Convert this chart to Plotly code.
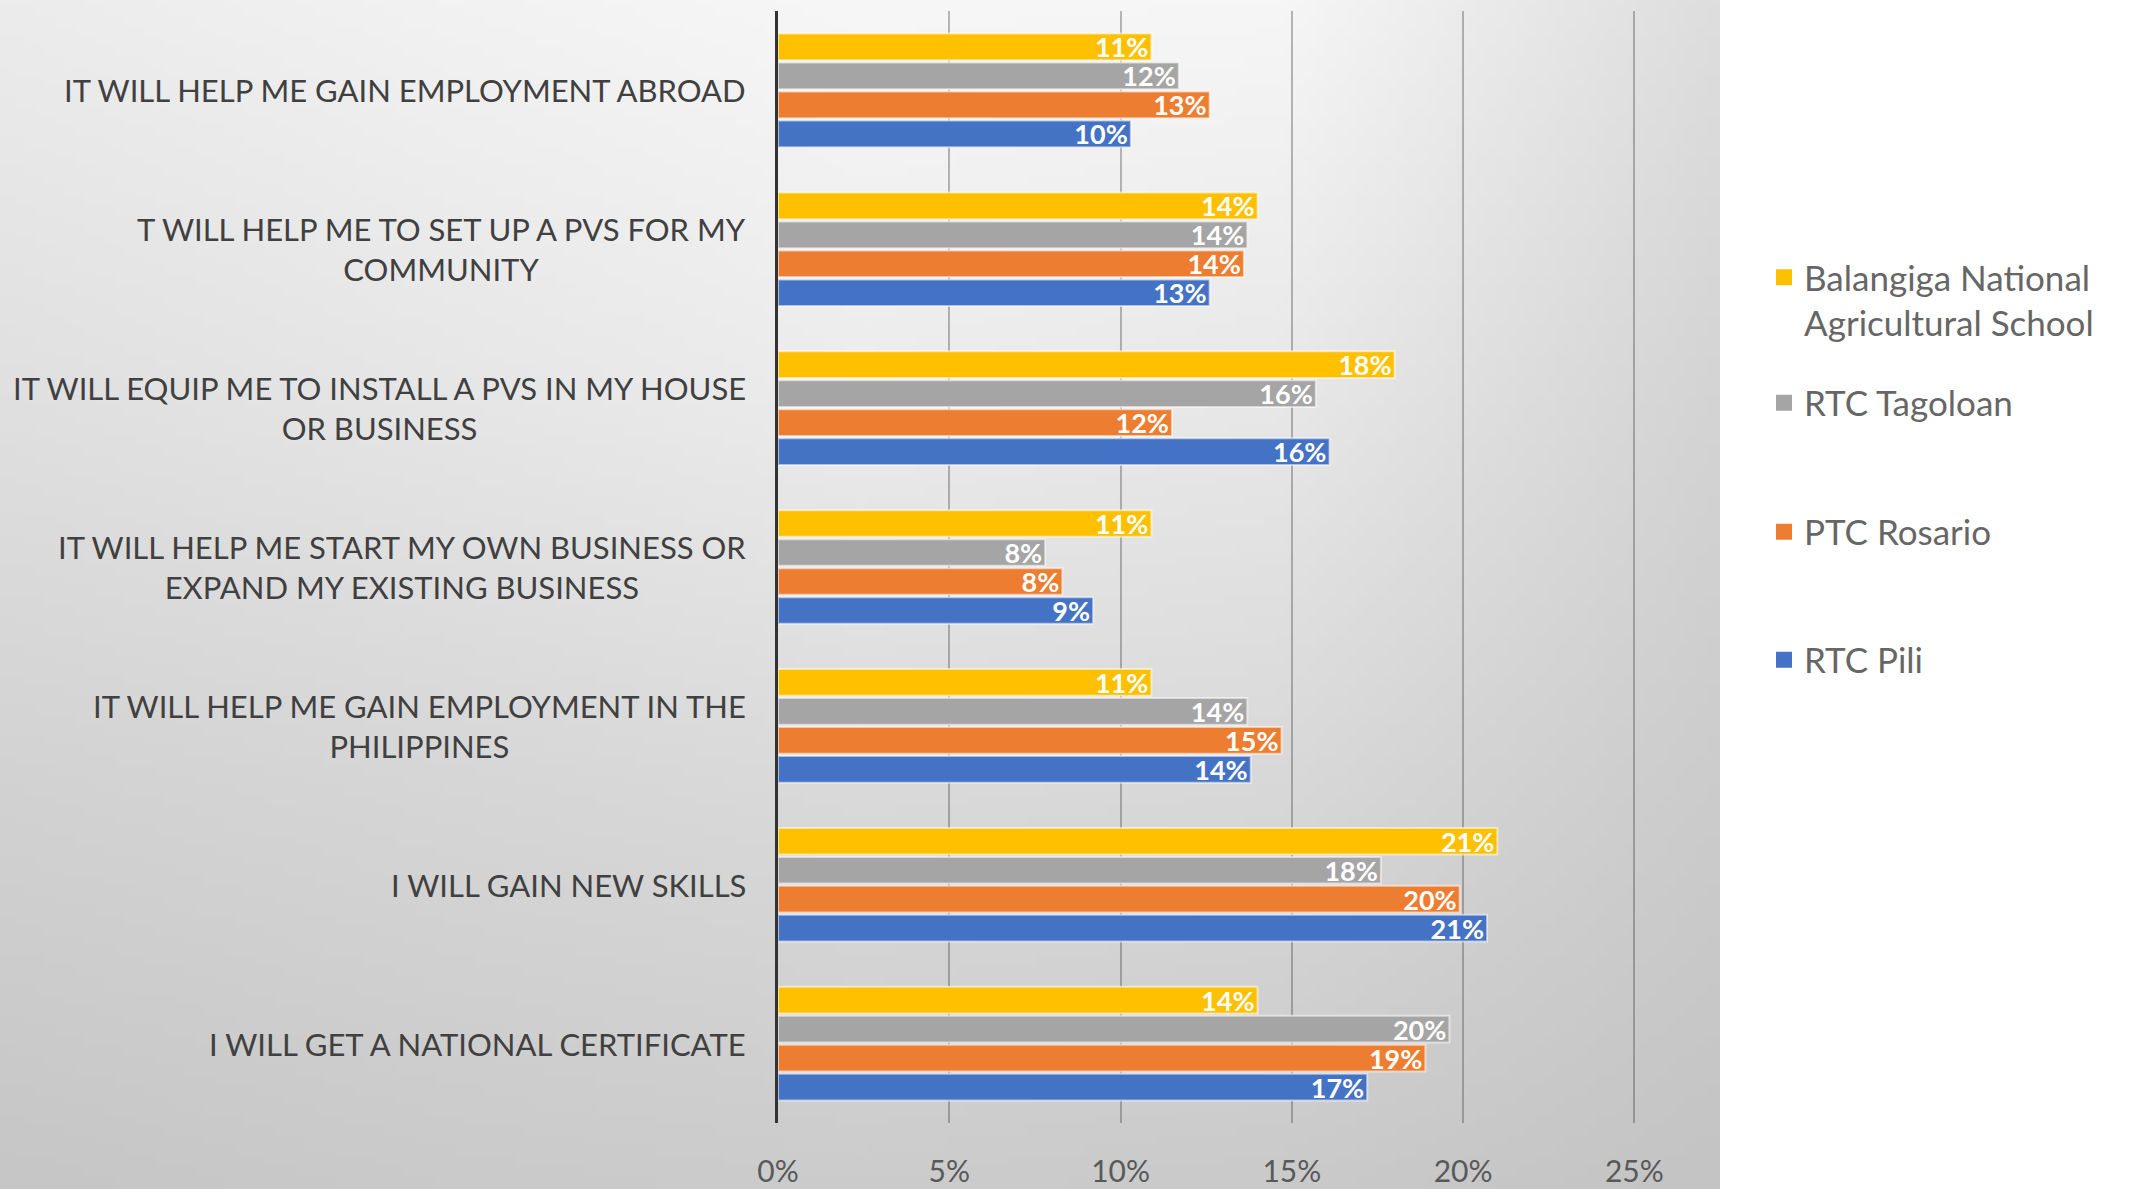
import base64
import struct
import zlib

import numpy as np
import plotly.graph_objects as go

# Survey answers, top to bottom
categories = [
    "IT WILL HELP ME GAIN EMPLOYMENT ABROAD",
    "T WILL HELP ME TO SET UP A PVS FOR MY<br>COMMUNITY",
    "IT WILL EQUIP ME TO INSTALL A PVS IN MY HOUSE<br>OR BUSINESS",
    "IT WILL HELP ME START MY OWN BUSINESS OR<br>EXPAND MY EXISTING BUSINESS",
    "IT WILL HELP ME GAIN EMPLOYMENT IN THE<br>PHILIPPINES",
    "I WILL GAIN NEW SKILLS",
    "I WILL GET A NATIONAL CERTIFICATE",
]

# Share of respondents (%) per school
balangiga = [10.9, 14.0, 18.0, 10.9, 10.9, 21.0, 14.0]
tagoloan = [11.7, 13.7, 15.7, 7.8, 13.7, 17.6, 19.6]
rosario = [12.6, 13.6, 11.5, 8.3, 14.7, 19.9, 18.9]
pili = [10.3, 12.6, 16.1, 9.2, 13.8, 20.7, 17.2]

series_names = ["Balangiga National<br>Agricultural School", "RTC Tagoloan", "PTC Rosario", "RTC Pili"]
series_values = [balangiga, tagoloan, rosario, pili]
series_colors = ["#FFC000", "#A5A5A5", "#ED7D31", "#4472C4"]

x_ticks = [0, 5, 10, 15, 20, 25]
x_tick_labels = ["0%", "5%", "10%", "15%", "20%", "25%"]

W, H = 2148, 1189
PL, PR, PT, PB = 778, 1720, 11, 1123  # plot area in pixels
PANEL_R = 1720


def gray_png(arr):
    """Encode a 2D uint8 array as a grayscale PNG data URI."""
    h, w = arr.shape
    raw = b"".join(b"\x00" + arr[r].tobytes() for r in range(h))

    def chunk(tag, data):
        c = struct.pack(">I", len(data)) + tag + data
        return c + struct.pack(">I", zlib.crc32(tag + data) & 0xFFFFFFFF)

    png = b"\x89PNG\r\n\x1a\n"
    png += chunk(b"IHDR", struct.pack(">IIBBBBB", w, h, 8, 0, 0, 0, 0))
    png += chunk(b"IDAT", zlib.compress(raw, 9))
    png += chunk(b"IEND", b"")
    return "data:image/png;base64," + base64.b64encode(png).decode()


# soft gray backdrop: lighter near the top centre, darker at the edges
ctrl = np.array([
    [236, 242, 247, 246, 222],
    [224, 230, 236, 232, 212],
    [210, 214, 218, 216, 204],
    [198, 202, 204, 202, 196],
], dtype=float)
gw, gh = 172, 119
cx = np.linspace(0, ctrl.shape[1] - 1, gw)
cy = np.linspace(0, ctrl.shape[0] - 1, gh)
tmp = np.array([np.interp(cx, np.arange(ctrl.shape[1]), row) for row in ctrl])
grad = np.array([np.interp(cy, np.arange(ctrl.shape[0]), tmp[:, j]) for j in range(gw)]).T
backdrop = gray_png(np.clip(grad, 0, 255).astype(np.uint8))

pw, ph = PR - PL, PB - PT

fig = go.Figure()

for name, vals, color in zip(series_names, series_values, series_colors):
    fig.add_trace(go.Bar(
        y=categories,
        x=vals,
        orientation="h",
        name=name,
        legendgroup=name,
        showlegend=False,
        marker=dict(color=color, line=dict(color="rgba(255,255,255,0.55)", width=2)),
        texttemplate="%{x:.0f}%",
        textposition="inside",
        insidetextanchor="end",
        constraintext="none",
        textfont=dict(family="Lato", size=27, color="white", weight="bold"),
        hovertemplate="%{y}: %{x:.1f}%<extra>" + name + "</extra>",
    ))

# legend entries, each in its own legend box
legend_y_px = [300, 403, 532, 660]
for i, (name, color) in enumerate(zip(series_names, series_colors)):
    fig.add_trace(go.Scatter(
        x=[None], y=[None],
        mode="markers",
        name=name,
        legendgroup=name,
        legend="legend" if i == 0 else f"legend{i + 1}",
        marker=dict(symbol="square", size=16, color=color),
        hoverinfo="skip",
    ))

legend_common = dict(
    xref="paper", yref="paper",
    xanchor="left", yanchor="middle",
    bgcolor="rgba(0,0,0,0)",
    font=dict(family="Lato", size=35, color="#666666"),
    itemclick=False, itemdoubleclick=False,
    valign="top",
)
legends = {}
for i, ypx in enumerate(legend_y_px):
    key = "legend" if i == 0 else f"legend{i + 1}"
    legends[key] = dict(legend_common, x=(1764 - PL) / pw, y=(PB - ypx) / ph)

annotations = [
    dict(
        text=c, x=0, y=c, xref="paper", yref="y",
        xanchor="right", yanchor="middle", xshift=-30,
        align="center", showarrow=False,
        font=dict(family="Lato", size=31, color="#404040"),
    )
    for c in categories
]

fig.update_layout(
    width=W, height=H,
    margin=dict(l=PL, r=W - PR, t=PT, b=H - PB),
    paper_bgcolor="white",
    plot_bgcolor="rgba(0,0,0,0)",
    barmode="group",
    bargap=0.27,
    bargroupgap=0.08,
    showlegend=True,
    annotations=annotations,
    images=[dict(
        source=backdrop, xref="paper", yref="paper",
        x=(0 - PL) / pw, y=(PB - 0) / ph,
        sizex=PANEL_R / pw, sizey=H / ph,
        xanchor="left", yanchor="top",
        sizing="stretch", layer="below",
    )],
    **legends,
)

fig.update_xaxes(
    range=[0, 27.5],
    tickmode="array",
    tickvals=x_ticks,
    ticktext=x_tick_labels,
    showgrid=True,
    gridcolor="rgba(60,60,60,0.35)",
    gridwidth=1.5,
    zeroline=False,
    showline=False,
    ticks="",
    ticklabelstandoff=28,
    automargin=False,
    tickfont=dict(family="Lato", size=30, color="#595959"),
    fixedrange=True,
)
fig.update_yaxes(
    type="category",
    categoryorder="array",
    categoryarray=categories,
    autorange="reversed",
    showticklabels=False,
    showgrid=False,
    showline=True,
    linecolor="#333333",
    linewidth=3,
    ticks="",
    automargin=False,
    fixedrange=True,
)

fig.write_html("out.html")
